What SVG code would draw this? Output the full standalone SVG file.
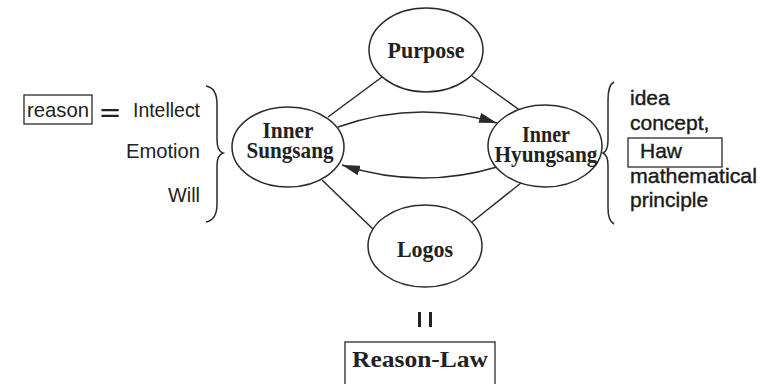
<svg xmlns="http://www.w3.org/2000/svg" width="765" height="384" viewBox="0 0 765 384">
<style>
.node ellipse{fill:#fff;stroke:#2a2a2a;stroke-width:1.5}
.nt{font-family:"Liberation Serif","Times New Roman",serif;font-weight:bold;font-size:24px;fill:#222;text-anchor:middle}
.st{font-family:"Liberation Sans",Arial,sans-serif;font-size:21px;fill:#222}
.rt{font-family:"Liberation Sans",Arial,sans-serif;font-size:21px;fill:#1a1a1a;stroke:#1a1a1a;stroke-width:0.4}
.ln{fill:none;stroke:#2a2a2a;stroke-width:1.5}
.box{fill:none;stroke:#2a2a2a;stroke-width:1.3}
</style>
<defs>
<marker id="ah" viewBox="0 0 18 10" refX="18" refY="5" markerWidth="18" markerHeight="10" markerUnits="userSpaceOnUse" orient="auto">
<path d="M0,0 L18,5 L0,10 Z" fill="#2a2a2a"/>
</marker>
</defs>
<rect width="765" height="384" fill="#fff"/>
<g id="connectors">
<line class="ln" x1="382" y1="77" x2="328" y2="117"/>
<line class="ln" x1="472" y1="76" x2="521" y2="111"/>
<line class="ln" x1="322" y1="180" x2="374" y2="230"/>
<line class="ln" x1="472" y1="222" x2="521" y2="183"/>
<path class="ln" d="M338,127 Q416,99 497,123" marker-end="url(#ah)"/>
<path class="ln" d="M497,167 Q420,190 342,165" marker-end="url(#ah)"/>
</g>
<g id="purpose" class="node">
<ellipse cx="426" cy="50" rx="57" ry="42"/>
<text class="nt" x="426" y="58" textLength="77" lengthAdjust="spacingAndGlyphs">Purpose</text>
</g>
<g id="inner-sungsang" class="node">
<ellipse cx="288" cy="147" rx="56" ry="40"/>
<text class="nt" x="288" y="138" textLength="51" lengthAdjust="spacingAndGlyphs">Inner</text>
<text class="nt" x="290" y="158" textLength="87" lengthAdjust="spacingAndGlyphs">Sungsang</text>
</g>
<g id="inner-hyungsang" class="node">
<ellipse cx="545" cy="146" rx="57" ry="41"/>
<text class="nt" x="546" y="142" textLength="48" lengthAdjust="spacingAndGlyphs">Inner</text>
<text class="nt" x="546" y="162" textLength="103" lengthAdjust="spacingAndGlyphs">Hyungsang</text>
</g>
<g id="logos" class="node">
<ellipse cx="425" cy="246" rx="57" ry="41"/>
<text class="nt" x="425" y="257" textLength="56" lengthAdjust="spacingAndGlyphs">Logos</text>
</g>
<g id="left-list">
<rect class="box" x="24" y="95" width="68" height="29"/>
<text class="st" x="27" y="117" textLength="62" lengthAdjust="spacingAndGlyphs">reason</text>
<text class="st" x="110" y="120" text-anchor="middle" font-size="30" font-weight="bold" textLength="20" lengthAdjust="spacingAndGlyphs">=</text>
<text class="st" x="200" y="117" text-anchor="end" textLength="67" lengthAdjust="spacingAndGlyphs">Intellect</text>
<text class="st" x="200" y="158" text-anchor="end" textLength="74" lengthAdjust="spacingAndGlyphs">Emotion</text>
<text class="st" x="200" y="202" text-anchor="end" textLength="32" lengthAdjust="spacingAndGlyphs">Will</text>
<path class="ln" d="M206,86 Q217,88 217,104 L217,140 Q217,151 223,153 Q217,155 217,166 L217,204 Q217,220 206,222"/>
</g>
<g id="right-list">
<path class="ln" d="M614,82 Q608,85 608,100 L608,140 Q608,151 603,153 Q608,155 608,166 L608,208 Q608,221 614,224"/>
<text class="rt" x="630" y="105">idea</text>
<text class="rt" x="630" y="130">concept,</text>
<rect class="box" x="628" y="138" width="94" height="29"/>
<text class="rt" x="640" y="158">Haw</text>
<text class="rt" x="630" y="183" textLength="127" lengthAdjust="spacingAndGlyphs">mathematical</text>
<text class="rt" x="630" y="207">principle</text>
</g>
<g id="reason-law">
<rect x="418" y="312" width="3" height="15" fill="#222"/>
<rect x="429" y="312" width="3" height="15" fill="#222"/>
<rect class="box" x="345" y="342" width="150" height="46"/>
<text class="nt" x="420" y="367" font-size="26" textLength="136" lengthAdjust="spacingAndGlyphs">Reason-Law</text>
</g>
</svg>
